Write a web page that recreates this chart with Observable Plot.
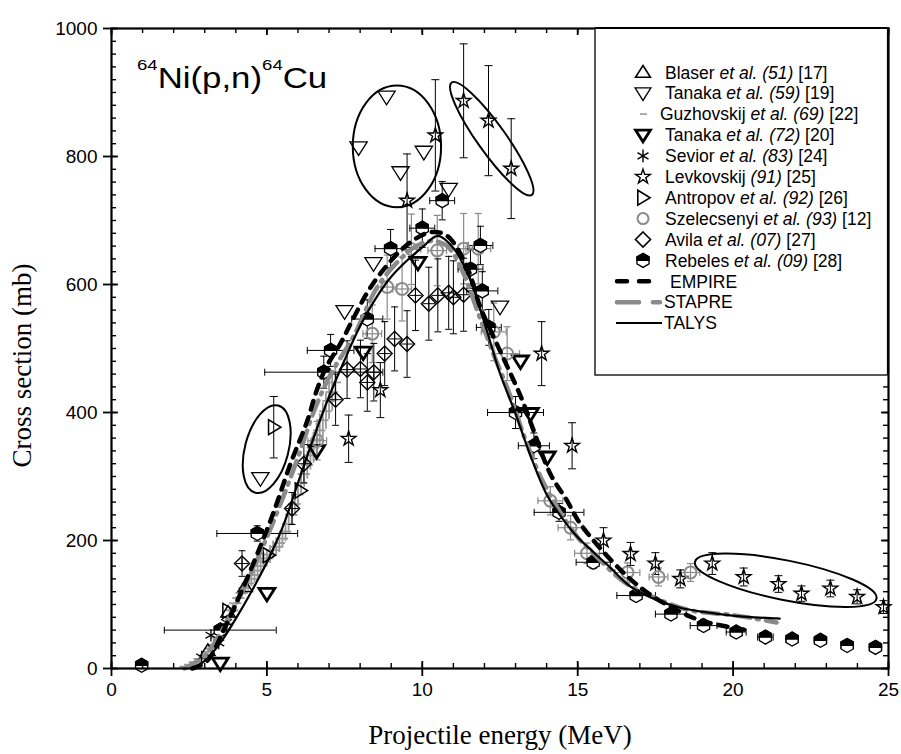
<!DOCTYPE html>
<html><head><meta charset="utf-8">
<script src="https://cdn.jsdelivr.net/npm/d3@7"></script>
<script src="https://cdn.jsdelivr.net/npm/@observablehq/plot@0.6"></script>
<style>
body{margin:0;background:#fff;}
svg{overflow:visible;}
</style></head><body>
<div id="chart"></div>
<script>
// ---------- axis ticks ----------
const xMajor = [0, 5, 10, 15, 20, 25];
const yMajor = [0, 200, 400, 600, 800, 1000];
const xMinor = d3.range(0, 26, 1);
const yMinor = d3.range(0, 1001, 20);

// ---------- experimental data (MeV, mb) ----------
const blaserE = [3.1, 3.75, 4.3];
const blaserS = [28, 88, 128];

const tanaka59E = [4.79, 7.50, 7.95, 8.43, 8.85, 9.30, 10.05, 10.85, 12.50];
const tanaka59S = [297, 558, 814, 633, 893, 775, 807, 749, 565];

const guzE = [2.40, 2.55, 2.70, 2.85, 3.00, 3.10, 3.20, 3.30, 3.40, 3.50, 3.60, 3.70, 3.80, 3.90, 4.00, 4.10, 4.20, 4.30, 4.40, 4.50, 4.60, 4.70, 4.80, 4.90, 5.00, 5.10, 5.20, 5.30, 5.40, 5.50, 5.60, 5.70, 5.80, 5.90, 6.00, 6.10, 6.20, 6.30, 6.40, 6.50, 6.60, 6.70, 6.80, 6.90, 7.00, 7.10, 7.20];
const guzS = [3, 6, 10, 15, 20, 26, 31, 37, 48, 55, 62, 70, 80, 91, 102, 110, 118, 126, 133, 140, 146, 153, 160, 167, 172, 178, 185, 190, 196, 203, 214, 226, 240, 257, 272, 290, 304, 318, 333, 345, 358, 372, 388, 402, 418, 432, 447];
const guzXerr = [0.2, 0.2, 0.2, 0.2, 0.2, 0.2, 0.2, 0.2, 0.2, 0.2, 0.2, 0.2, 0.2, 0.2, 0.2, 0.2, 0.2, 0.2, 0.2, 0.2, 0.2, 0.2, 0.2, 0.2, 0.2, 0.2, 0.2, 0.2, 0.2, 0.2, 0.2, 0.2, 0.2, 0.2, 0.2, 0.2, 0.2, 0.2, 0.2, 0.2, 0.2, 0.2, 0.2, 0.2, 0.2, 0.2, 0.2];
const guzYerr = [2, 3, 4, 5, 5, 6, 6, 7, 7, 8, 8, 8, 9, 9, 10, 10, 10, 11, 11, 12, 12, 12, 13, 13, 13, 14, 14, 14, 15, 15, 16, 16, 17, 18, 19, 20, 21, 22, 23, 24, 25, 26, 27, 28, 29, 30, 31];

const tanaka72E = [3.50, 5.00, 6.60, 8.10, 9.86, 13.16, 13.48, 14.02];
const tanaka72S = [8, 117, 340, 494, 634, 480, 398, 330];

const seviorE = [2.9, 3.2, 3.45, 3.7];
const seviorS = [18, 52, 40, 72];

const levE = [7.63, 8.65, 9.51, 10.42, 11.33, 12.13, 12.86, 13.84, 14.82, 15.83, 16.70, 17.50, 18.30, 19.33, 20.34, 21.46, 22.20, 23.13, 23.99, 24.84];
const levS = [359, 435, 731, 833, 887, 856, 781, 492, 348, 200, 179, 164, 140, 164, 143, 132, 117, 125, 112, 96];
const levErr = [37, 43, 73, 87, 89, 86, 78, 50, 36, 20, 18, 17, 14, 17, 14, 13, 12, 13, 11, 10];

const antE = [3.75, 5.05, 5.22, 6.08];
const antS = [90, 177, 377, 278];
const antErr = [0, 0, 48, 0];

const szeE = [6.62, 8.39, 8.87, 9.35, 9.65, 10.48, 11.33, 11.80, 12.30, 12.73, 14.12, 14.77, 15.30, 16.60, 17.60, 18.63];
const szeS = [356, 523, 596, 593, 655, 653, 656, 656, 526, 492, 262, 220, 180, 150, 143, 150];
const szeYerr = [30, 45, 50, 50, 55, 55, 55, 55, 45, 42, 22, 19, 16, 15, 14, 14];
const szeXerr = [0.3, 0.3, 0.3, 0.3, 0.3, 0.3, 0.4, 0.4, 0.4, 0.4, 0.4, 0.4, 0.4, 0.4, 0.3, 0.3];

const avilaE = [4.20, 5.81, 6.19, 7.21, 7.58, 8.01, 8.23, 8.44, 8.79, 9.11, 9.51, 9.78, 10.21, 10.50, 10.85, 11.00, 11.33];
const avilaS = [164, 250, 320, 420, 467, 468, 447, 463, 492, 515, 507, 583, 570, 583, 587, 580, 584];
const avilaErr = [20, 25, 30, 40, 45, 45, 45, 45, 50, 50, 52, 55, 57, 57, 57, 57, 57];

const rebE = [0.97, 3.50, 4.69, 6.83, 7.05, 8.23, 8.98, 10.00, 10.64, 11.55, 11.87, 11.93, 12.14, 13.00, 13.59, 14.40, 15.50, 16.88, 18.00, 19.05, 20.10, 21.04, 21.90, 22.81, 23.67, 24.58];
const rebS = [5, 60, 211, 463, 497, 546, 656, 688, 731, 624, 661, 590, 533, 400, 348, 244, 166, 114, 85, 67, 57, 49, 46, 44, 36, 33];
const rebXerr = [0, 1.8, 1.3, 1.9, 0.75, 0.5, 0.5, 0.4, 0.4, 0.4, 0.4, 0.5, 0.4, 0.9, 0.5, 0.8, 0.55, 0.62, 0.5, 0.43, 0.32, 0.25, 0.2, 0.2, 0.2, 0.2];
const rebYerr = [0, 6, 12, 25, 25, 30, 30, 30, 30, 30, 30, 30, 28, 25, 20, 14, 10, 8, 6, 5, 5, 5, 5, 4, 4, 4];

// ---------- model calculations ----------
const empireE = [2.6, 3.08, 3.6, 4.15, 4.69, 5.2, 5.76, 6.3, 6.6, 6.9, 7.37, 7.75, 8.2, 8.65, 9.3, 9.8, 10.3, 10.8, 11.44, 11.87, 12.2, 12.6, 12.94, 13.26, 13.58, 14.12, 14.66, 15.1, 16.4, 17.2, 18.0, 18.95, 20.2, 20.45];
const empireS = [0, 12, 59, 117, 179, 242, 320, 387, 434, 470, 508, 544, 585, 617, 653, 672, 682, 676, 627, 564, 528, 486, 450, 414, 372, 304, 262, 225, 153, 120, 96, 75, 62, 60];

const stapreE = [2.35, 3.0, 3.5, 4.0, 4.5, 5.0, 5.5, 6.0, 6.5, 7.0, 7.8, 8.55, 9.2, 9.8, 10.3, 10.8, 11.3, 11.8, 12.3, 12.8, 13.3, 13.8, 14.3, 15.0, 15.5, 16.5, 17.5, 18.6, 19.9, 20.7, 21.4];
const stapreS = [0, 20, 55, 100, 150, 205, 265, 330, 400, 455, 520, 596, 635, 660, 668, 660, 620, 555, 490, 430, 360, 300, 255, 205, 180, 135, 110, 91, 84, 78, 72];

const talysE = [2.6, 3.0, 3.5, 4.0, 4.5, 5.0, 5.5, 6.0, 6.5, 7.0, 7.5, 8.0, 8.5, 9.0, 9.5, 10.0, 10.5, 11.0, 11.5, 12.0, 12.5, 13.0, 13.5, 14.0, 14.5, 15.0, 15.5, 16.0, 16.7, 17.5, 18.3, 19.1, 19.9, 20.7, 21.5];
const talysS = [0, 12, 40, 78, 120, 166, 220, 290, 360, 425, 482, 535, 578, 612, 637, 658, 676, 657, 612, 540, 461, 398, 330, 272, 235, 205, 182, 160, 128, 108, 95, 88, 83, 80, 78];

// ---------- annotation ellipses (centre MeV/mb, semi-axes MeV/mb, tilt deg) ----------
const ellCx = [9.2, 12.25, 5.01, 21.71];
const ellCy = [815, 827, 342, 137];
const ellRx = [1.42, 2.22, 1.45, 2.98];
const ellRy = [95, 22, 34, 31];
const ellAngle = [0, 54.5, -75.3, 11.4];

// ---------- legend ----------
const legNames = ["Blaser", "Tanaka", "Guzhovskij", "Tanaka", "Sevior", "Levkovskij", "Antropov", "Szelecsenyi", "Avila", "Rebeles"];
const legEtAl = [true, true, true, true, true, false, true, true, true, true];
const legYears = ["(51)", "(59)", "(69)", "(72)", "(83)", "(91)", "(92)", "(93)", "(07)", "(09)"];
const legRefs = ["[17]", "[19]", "[22]", "[20]", "[24]", "[25]", "[26]", "[12]", "[27]", "[28]"];
const modelNames = ["EMPIRE", "STAPRE", "TALYS"];

// ---------- helpers ----------
const rad = s => Math.sqrt(s / Math.PI);
const triDown = {draw(c, s) { const r = rad(s); c.moveTo(-1.2*r, -0.8*r); c.lineTo(1.2*r, -0.8*r); c.lineTo(0, 1.1*r); c.closePath(); }};
const triUp = {draw(c, s) { const r = rad(s); c.moveTo(-1.2*r, 0.8*r); c.lineTo(1.2*r, 0.8*r); c.lineTo(0, -1.1*r); c.closePath(); }};
const triRight = {draw(c, s) { const r = rad(s); c.moveTo(-0.8*r, -1.15*r); c.lineTo(1.1*r, 0); c.lineTo(-0.8*r, 1.15*r); c.closePath(); }};
const hexFull = {draw(c, s) { const r = rad(s); for (let i = 0; i < 6; i++) { const a = (-90 + 60*i) * Math.PI/180; const px = r*Math.cos(a), py = r*Math.sin(a); i ? c.lineTo(px, py) : c.moveTo(px, py); } c.closePath(); }};
const hexTop = {draw(c, s) { const r = rad(s); const k = r*Math.cos(Math.PI/6); c.moveTo(0, -r); c.lineTo(k, -r/2); c.lineTo(k, 0); c.lineTo(-k, 0); c.lineTo(-k, -r/2); c.closePath(); }};
const capH = {draw(c, s) { const r = rad(s); c.moveTo(-r, 0); c.lineTo(r, 0); }};
const capV = {draw(c, s) { const r = rad(s); c.moveTo(0, -r); c.lineTo(0, r); }};

const table = (E, S, ex, ey) => E.map((e, i) => {
  const dx = ex ? ex[i] : 0, dy = ey ? ey[i] : 0;
  return {x: e, y: S[i], xl: e - dx, xh: e + dx, yl: S[i] - dy, yh: S[i] + dy, ex: dx, ey: dy};
});
function errMarks(data, {stroke = "black", strokeWidth = 1, cap = 3.5} = {}) {
  const v = data.filter(d => d.ey > 0), h = data.filter(d => d.ex > 0);
  const out = [
    Plot.ruleX(v, {x: "x", y1: "yl", y2: "yh", stroke, strokeWidth}),
    Plot.ruleY(h, {y: "y", x1: "xl", x2: "xh", stroke, strokeWidth})
  ];
  if (cap > 0) out.push(
    Plot.dot(v, {x: "x", y: "yl", symbol: capH, r: cap, stroke, strokeWidth, fill: "none"}),
    Plot.dot(v, {x: "x", y: "yh", symbol: capH, r: cap, stroke, strokeWidth, fill: "none"}),
    Plot.dot(h, {x: "xl", y: "y", symbol: capV, r: cap, stroke, strokeWidth, fill: "none"}),
    Plot.dot(h, {x: "xh", y: "y", symbol: capV, r: cap, stroke, strokeWidth, fill: "none"})
  );
  return out;
}

const blaser = table(blaserE, blaserS);
const tanaka59 = table(tanaka59E, tanaka59S);
const guz = table(guzE, guzS, guzXerr, guzYerr);
const tanaka72 = table(tanaka72E, tanaka72S);
const sevior = table(seviorE, seviorS);
const lev = table(levE, levS, null, levErr);
const ant = table(antE, antS, null, antErr);
const sze = table(szeE, szeS, szeXerr, szeYerr);
const avila = table(avilaE, avilaS, null, avilaErr);
const reb = table(rebE, rebS, rebXerr, rebYerr);
const empire = table(empireE, empireS);
const stapre = table(stapreE, stapreS);
const talys = table(talysE, talysS);
const ellipses = ellCx.map((cx, i) => ({cx, cy: ellCy[i], rx: ellRx[i], ry: ellRy[i], angle: ellAngle[i]}));

const GRAY = "#8a8a8a";
const LGRAY = "#999999";

function ellipseMark(list) {
  return (index, scales) => {
    const g = d3.create("svg:g").attr("fill", "none").attr("stroke", "black").attr("stroke-width", 2);
    for (const e of list) {
      const cx = scales.x(e.cx), cy = scales.y(e.cy);
      const a = Math.abs(scales.x(e.cx + e.rx) - cx);
      const b = Math.abs(scales.y(e.cy + e.ry) - cy);
      g.append("ellipse").attr("rx", a).attr("ry", b)
        .attr("transform", `translate(${cx},${cy}) rotate(${e.angle})`);
    }
    return g.node();
  };
}

const axisFont = {fontSize: 19, fontFamily: "Liberation Sans, Arial, sans-serif"};
const fmt = d => String(d);
// tick lengths through the scales: the frame is 777 px for 25 MeV and 640 px for 1000 mb
const XPP = 25 / 777, YPP = 1000 / 640;
const tickMarks = [
  Plot.ruleX(xMinor, {x: d => d, y1: 0, y2: 5 * YPP, stroke: "black", strokeWidth: 1.4}),
  Plot.ruleX(xMajor, {x: d => d, y1: -8 * YPP, y2: 7 * YPP, stroke: "black", strokeWidth: 1.8}),
  Plot.ruleX(xMinor, {x: d => d, y1: 1000 - 5 * YPP, y2: 1000, stroke: "black", strokeWidth: 1.4}),
  Plot.ruleX(xMajor, {x: d => d, y1: 1000 - 7 * YPP, y2: 1000, stroke: "black", strokeWidth: 1.8}),
  Plot.ruleY(yMinor, {y: d => d, x1: 0, x2: 5 * XPP, stroke: "black", strokeWidth: 1.4}),
  Plot.ruleY(yMajor, {y: d => d, x1: -8 * XPP, x2: 7 * XPP, stroke: "black", strokeWidth: 1.8}),
  Plot.ruleY(yMinor, {y: d => d, x1: 25 - 5 * XPP, x2: 25, stroke: "black", strokeWidth: 1.4}),
  Plot.ruleY(yMajor, {y: d => d, x1: 25 - 7 * XPP, x2: 25, stroke: "black", strokeWidth: 1.8})
];

const chart = Plot.plot({
  width: 901, height: 754,
  marginLeft: 111, marginRight: 13, marginTop: 28, marginBottom: 86,
  style: {fontFamily: "Liberation Sans, Arial, sans-serif", background: "white", color: "black"},
  x: {domain: [0, 25]},
  y: {domain: [0, 1000]},
  marks: [
    ...errMarks(guz, {stroke: LGRAY, strokeWidth: 1.8, cap: 0}),
    ...errMarks(sze, {stroke: GRAY, strokeWidth: 1.2, cap: 3.5}),
    ...errMarks(avila, {stroke: "black", strokeWidth: 1, cap: 3.5}),
    ...errMarks(lev, {stroke: "black", strokeWidth: 1, cap: 4}),
    ...errMarks(ant, {stroke: "black", strokeWidth: 1, cap: 4}),
    ...errMarks(reb, {stroke: "black", strokeWidth: 1, cap: 3.5}),
    Plot.dot(blaser, {x: "x", y: "y", symbol: triUp, r: 6, stroke: "black", strokeWidth: 1.5, fill: "none"}),
    Plot.dot(tanaka59, {x: "x", y: "y", symbol: triDown, r: 7.2, stroke: "black", strokeWidth: 1.3, fill: "none"}),
    Plot.dot(tanaka72, {x: "x", y: "y", symbol: triDown, r: 6.6, stroke: "black", strokeWidth: 2.8, fill: "none"}),
    Plot.dot(sevior, {x: "x", y: "y", symbol: "asterisk", r: 6, stroke: "black", strokeWidth: 1.3, fill: "none"}),
    Plot.dot(lev, {x: "x", y: "y", symbol: "star", r: 4.6, stroke: "black", strokeWidth: 1.4, fill: "none"}),
    Plot.dot(ant, {x: "x", y: "y", symbol: triRight, r: 6.5, stroke: "black", strokeWidth: 1.5, fill: "none"}),
    Plot.dot(sze, {x: "x", y: "y", symbol: "circle", r: 6, stroke: GRAY, strokeWidth: 2, fill: "none"}),
    Plot.dot(avila, {x: "x", y: "y", symbol: "diamond2", r: 6.8, stroke: "black", strokeWidth: 1.4, fill: "none"}),
    Plot.dot(avila, {x: "x", y: "y", symbol: "plus", r: 4, stroke: "black", strokeWidth: 1, fill: "none"}),
    Plot.dot(reb, {x: "x", y: "y", symbol: hexFull, r: 7, stroke: "black", strokeWidth: 1.3, fill: "white"}),
    Plot.dot(reb, {x: "x", y: "y", symbol: hexTop, r: 7, stroke: "black", strokeWidth: 1.3, fill: "black"}),
    Plot.line(stapre, {x: "x", y: "y", curve: "catmull-rom", stroke: GRAY, strokeWidth: 4.5, strokeDasharray: "16,7,2,7", strokeLinecap: "round"}),
    Plot.line(empire, {x: "x", y: "y", curve: "catmull-rom", stroke: "black", strokeWidth: 4.5, strokeDasharray: "9,8", strokeLinecap: "round"}),
    Plot.line(talys, {x: "x", y: "y", curve: "catmull-rom", stroke: "black", strokeWidth: 2.2}),
    ellipseMark(ellipses),
    Plot.frame({stroke: "black", strokeWidth: 2.2}),
    ...tickMarks,
    Plot.axisX({anchor: "bottom", ticks: xMajor, tickSize: 0, tickPadding: 14, tickFormat: fmt, label: null, ...axisFont}),
    Plot.axisY({anchor: "left", ticks: yMajor, tickSize: 0, tickPadding: 14, tickFormat: fmt, label: null, ...axisFont}),
    Plot.text(["Projectile energy (MeV)"], {frameAnchor: "bottom", dy: 67, textAnchor: "middle", lineAnchor: "middle", fontFamily: "Liberation Serif, Times New Roman, serif", fontSize: 27}),
    Plot.text(["Cross section (mb)"], {frameAnchor: "left", dx: -89, dy: 17, rotate: -90, textAnchor: "middle", lineAnchor: "middle", fontFamily: "Liberation Serif, Times New Roman, serif", fontSize: 27})
  ]
});
document.getElementById("chart").appendChild(chart);

const svg = d3.select(chart);

// ---------- title & legend (drawn into the same SVG) ----------
const title = svg.append("text")
  .attr("transform", "translate(137,88) scale(1.2,1)")
  .attr("text-anchor", "start")
  .attr("font-family", "Liberation Sans, Arial, sans-serif").attr("font-size", 29).attr("fill", "black");
title.append("tspan").attr("font-size", 15.5).attr("dy", -18).text("64");
title.append("tspan").attr("dy", 18).text("Ni(p,n)");
title.append("tspan").attr("font-size", 15.5).attr("dy", -18).text("64");
title.append("tspan").attr("dy", 18).text("Cu");

const leg = svg.append("g").attr("text-anchor", "start");
leg.append("rect").attr("x", 595).attr("y", 28).attr("width", 293).attr("height", 347)
  .attr("fill", "white").attr("stroke", "#222").attr("stroke-width", 1.5);
leg.append("path").attr("d", "M595,28H888V375").attr("fill", "none").attr("stroke", "black").attr("stroke-width", 2.2);

const symPath = (sym, r) => { const p = d3.path(); sym.draw(p, Math.PI * r * r); return p.toString(); };
const legSyms = [
  {d: symPath(triUp, 6.2), stroke: "black", sw: 1.6, fill: "none"},
  {d: symPath(triDown, 6.6), stroke: "black", sw: 1.3, fill: "none"},
  {d: "M-3,0H4", stroke: LGRAY, sw: 1.6, fill: "none"},
  {d: symPath(triDown, 6.2), stroke: "black", sw: 2.8, fill: "none"},
  {d: symPath(d3.symbolAsterisk, 6), stroke: "black", sw: 1.4, fill: "none"},
  {d: symPath(d3.symbolStar, 4.6), stroke: "black", sw: 1.4, fill: "none"},
  {d: symPath(triRight, 6.5), stroke: "black", sw: 1.6, fill: "none"},
  {d: symPath(d3.symbolCircle, 5.5), stroke: GRAY, sw: 2, fill: "none"},
  {d: symPath(d3.symbolDiamond2, 6.8), stroke: "black", sw: 1.6, fill: "none"},
  {d: symPath(hexFull, 7), stroke: "black", sw: 1.3, fill: "white", d2: symPath(hexTop, 7)}
];
const rowY = i => 72.3 + i * 20.9;
legNames.forEach((name, i) => {
  const y = rowY(i);
  const s = legSyms[i];
  const gs = leg.append("g").attr("transform", `translate(643,${y})`);
  gs.append("path").attr("d", s.d).attr("fill", s.fill).attr("stroke", s.stroke).attr("stroke-width", s.sw);
  if (s.d2) gs.append("path").attr("d", s.d2).attr("fill", "black").attr("stroke", "black").attr("stroke-width", 1.3);
  const t = leg.append("text").attr("x", i === 2 ? 660 : 665).attr("y", y + 6.2)
    .attr("font-family", "Liberation Sans, Arial, sans-serif").attr("font-size", 17.5).attr("fill", "black");
  t.append("tspan").text(name + " ");
  if (legEtAl[i]) { t.append("tspan").attr("font-style", "italic").text("et al."); t.append("tspan").text(" "); }
  t.append("tspan").attr("font-style", "italic").text(legYears[i]);
  t.append("tspan").text(" " + legRefs[i]);
});
const modelStyles = [
  {stroke: "black", sw: 4.5, dash: "10,12", x1: 617, x2: 657, tx: 670},
  {stroke: GRAY, sw: 4.5, dash: "22,14", x1: 617, x2: 660, tx: 664},
  {stroke: "black", sw: 2, dash: null, x1: 616, x2: 662, tx: 664}
];
modelNames.forEach((name, j) => {
  const y = rowY(10 + j), m = modelStyles[j];
  leg.append("line").attr("x1", m.x1).attr("x2", m.x2).attr("y1", y).attr("y2", y)
    .attr("stroke", m.stroke).attr("stroke-width", m.sw).attr("stroke-linecap", m.dash ? "round" : "butt")
    .attr("stroke-dasharray", m.dash);
  leg.append("text").attr("x", m.tx).attr("y", y + 6.2)
    .attr("font-family", "Liberation Sans, Arial, sans-serif").attr("font-size", 17.5).attr("fill", "black").text(name);
});
</script>
</body></html>
